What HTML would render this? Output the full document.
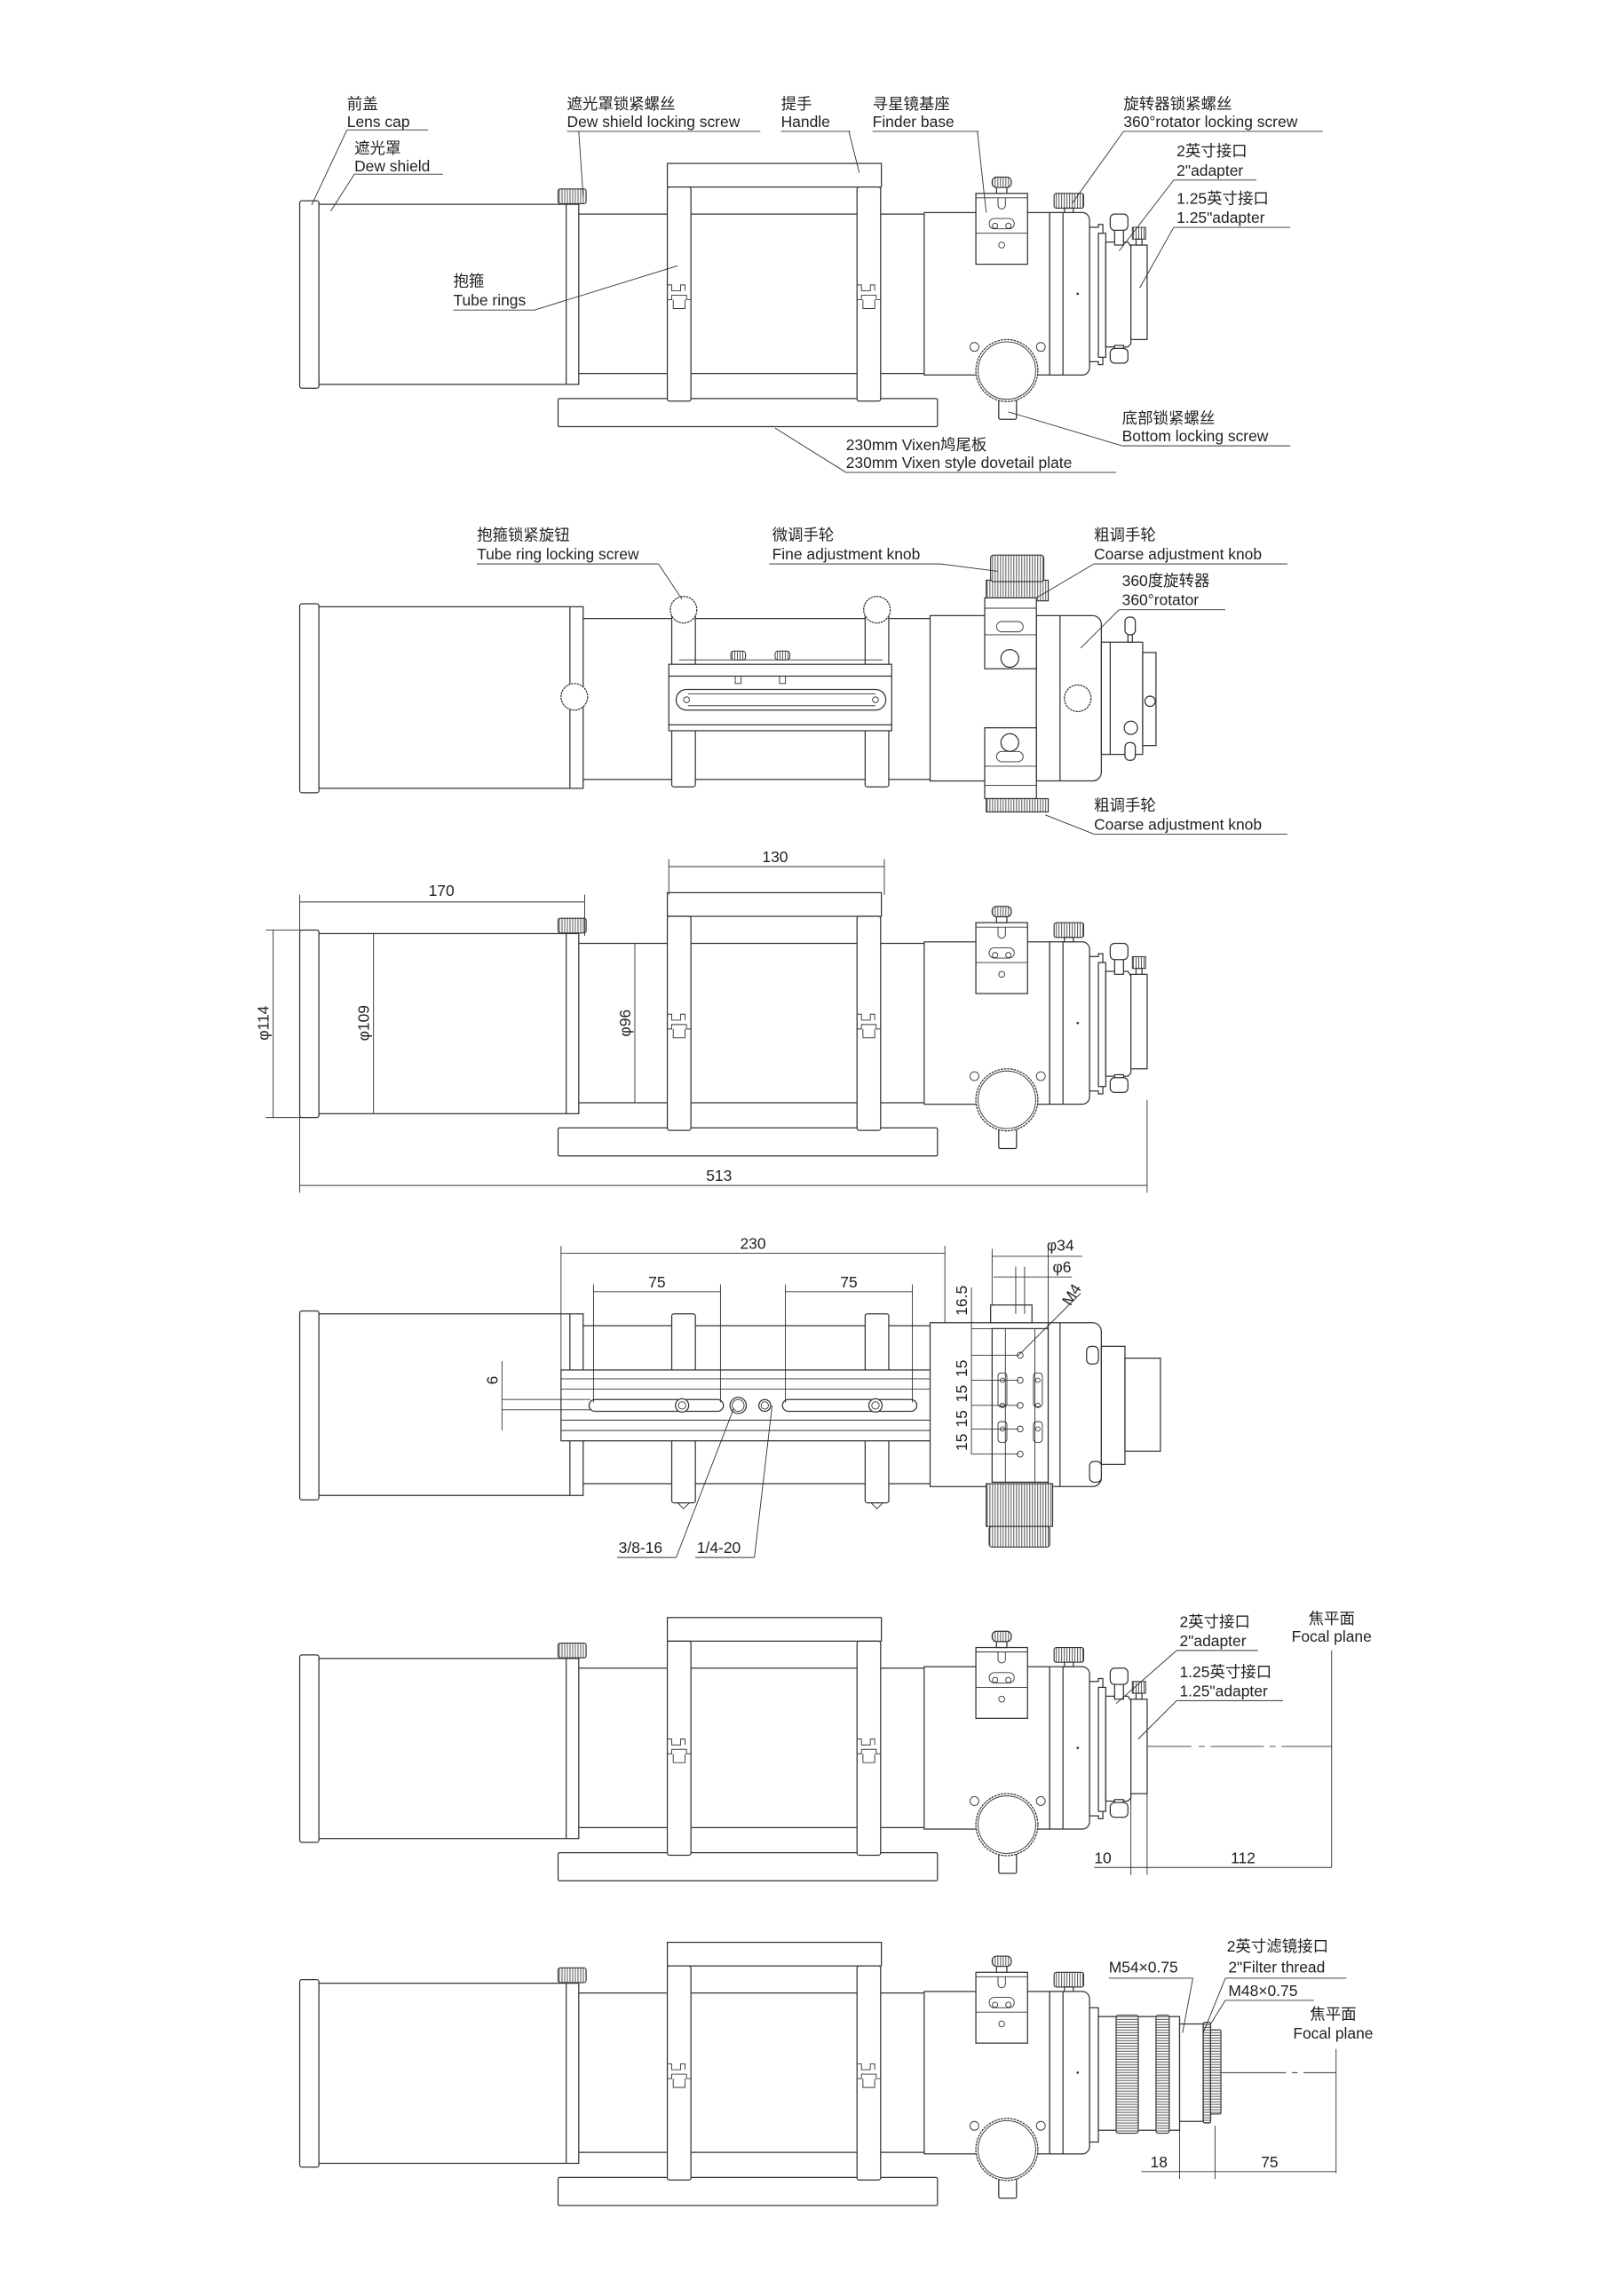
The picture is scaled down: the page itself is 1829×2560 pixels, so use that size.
<!DOCTYPE html>
<html><head><meta charset="utf-8"><style>
html,body{margin:0;padding:0;background:#fff}
svg{display:block}
text{font-family:"Liberation Sans","Noto Sans CJK SC",sans-serif;font-size:10.5px;fill:#222}
.l{fill:none;stroke:#333;stroke-width:0.75}
.w{fill:#fff;stroke:#333;stroke-width:0.75}
.t{fill:none;stroke:#333;stroke-width:0.55}
</style></head><body>
<svg width="1829" height="2560" viewBox="0 0 1100 1539.7" xmlns="http://www.w3.org/2000/svg">
<defs>
<pattern id="kn" width="1.8" height="4" patternUnits="userSpaceOnUse"><rect width="1.8" height="4" fill="#fff"/><line x1="0.9" y1="0" x2="0.9" y2="4" stroke="#333" stroke-width="0.5"/></pattern>
<pattern id="knh" width="4" height="1.8" patternUnits="userSpaceOnUse"><rect width="4" height="1.8" fill="#fff"/><line x1="0" y1="0.9" x2="4" y2="0.9" stroke="#333" stroke-width="0.5"/></pattern>
<g id="base">
 <rect class="w" x="203" y="136" width="13" height="127" rx="1.5"/>
 <rect class="w" x="216" y="138.4" width="176" height="122"/>
 <line class="l" x1="383.5" y1="138.4" x2="383.5" y2="260.4"/>
 <rect x="378" y="128" width="19" height="10" rx="1.5" fill="url(#kn)" stroke="#333" stroke-width="0.7"/>
 <line class="l" x1="392" y1="145" x2="626" y2="145"/>
 <line class="l" x1="392" y1="253" x2="626" y2="253"/>
 <rect class="w" x="378" y="270" width="257" height="19" rx="1"/>
 <rect class="w" x="452" y="110.7" width="145" height="16"/>
 <rect class="w" x="452" y="126.7" width="16" height="145" rx="1.5"/>
 <rect class="w" x="580.5" y="126.7" width="16" height="145" rx="1.5"/>
 <path class="t" d="M452 193h3v4h6v-4h3v4M452 203h3v-3h10v3h3M580.5 193h3v4h6v-4h3v4M580.5 203h3v-3h10v3h3"/>
 <path class="t" d="M456 203v6h8v-6M584.5 203v6h8v-6"/>
 <rect class="w" x="626" y="144" width="85" height="110"/>
 <path class="w" d="M711 144h22a5 5 0 0 1 5 5v100a5 5 0 0 1 -5 5h-22z"/>
 <line class="l" x1="720" y1="144" x2="720" y2="254"/>
 <circle cx="730" cy="199" r="0.8" fill="#333"/>
 <rect x="714" y="131" width="20" height="10" rx="1.5" fill="url(#kn)" stroke="#333" stroke-width="0.7"/>
 <rect class="w" x="721" y="141" width="6" height="3"/>
 <rect class="w" x="661" y="131" width="35" height="48"/>
 <line class="t" x1="661" y1="134" x2="696" y2="134"/>
 <line class="t" x1="661" y1="158" x2="696" y2="158"/>
 <rect class="t" x="670" y="148" width="17" height="7" rx="3.5"/>
 <circle class="t" cx="674" cy="153" r="1.8"/><circle class="t" cx="683" cy="153" r="1.8"/>
 <circle class="t" cx="678.5" cy="166" r="2"/>
 <path class="t" d="M676 134v5a2.5 2.5 0 0 0 5 0v-5"/>
 <rect class="w" x="675" y="126" width="7" height="5"/>
 <rect x="672" y="120" width="13" height="7" rx="3" fill="url(#kn)" stroke="#333" stroke-width="0.7"/>
 <circle class="t" cx="660" cy="235" r="3"/><circle class="t" cx="705" cy="235" r="3"/>
 <rect class="w" x="676.5" y="270" width="12" height="14" rx="1"/>
 <circle class="w" cx="682" cy="251" r="21" stroke-dasharray="1.6 0.6" stroke-width="1.1"/>
 <circle class="t" cx="682" cy="251" r="19.5"/>
</g>
<g id="adp">
 <path class="w" d="M738 154h6v-2h3v95h-3v-2h-6z"/>
 <rect class="w" x="744" y="158" width="5" height="84"/>
 <path class="w" d="M749 164h15l2 3v66l-2 2h-15z"/>
 <rect class="w" x="766" y="166" width="11" height="64"/>
 <rect class="w" x="755" y="155" width="6" height="11"/>
 <rect class="w" x="752" y="145" width="12" height="11" rx="3"/>
 <rect class="w" x="755" y="234" width="6" height="11"/>
 <rect class="w" x="752" y="236" width="12" height="10" rx="3"/>
 <rect x="767" y="154" width="9" height="8" fill="url(#kn)" stroke="#333" stroke-width="0.6"/>
 <rect class="w" x="769.5" y="162" width="4" height="4"/>
</g>
</defs>

<!-- VIEW 1 -->
<use href="#base"/><use href="#adp"/>
<g class="t">
<path d="M235 88h55M235 88L211 139"/>
<path d="M240 118h60M240 118L224 143"/>
<path d="M384 89h131M392 89L395 133"/>
<path d="M529 89h47M575 89L582 117"/>
<path d="M591 89h72M662 89L668 144"/>
<path d="M761 89h135M761 89L726 138"/>
<path d="M795 122h56M795 122L758 170"/>
<path d="M795 154h79M795 154L772 195"/>
<path d="M760 302h114M760 302L683 279"/>
<path d="M307 210h55M362 210L459 180"/>
<path d="M573 320h183M573 320L525 290"/>
</g>
<text x="235" y="74">前盖</text><text x="235" y="86">Lens cap</text>
<text x="240" y="104">遮光罩</text><text x="240" y="116">Dew shield</text>
<text x="384" y="74">遮光罩锁紧螺丝</text><text x="384" y="86">Dew shield locking screw</text>
<text x="529" y="74">提手</text><text x="529" y="86">Handle</text>
<text x="591" y="74">寻星镜基座</text><text x="591" y="86">Finder base</text>
<text x="761" y="74">旋转器锁紧螺丝</text><text x="761" y="86">360°rotator locking screw</text>
<text x="797" y="106">2英寸接口</text><text x="797" y="119">2"adapter</text>
<text x="797" y="138">1.25英寸接口</text><text x="797" y="151">1.25"adapter</text>
<text x="760" y="287">底部锁紧螺丝</text><text x="760" y="299">Bottom locking screw</text>
<text x="307" y="194">抱箍</text><text x="307" y="207">Tube rings</text>
<text x="573" y="305">230mm Vixen鸠尾板</text><text x="573" y="317">230mm Vixen style dovetail plate</text>

<!-- VIEW 2 (top) -->
<rect class="w" x="203" y="409" width="13" height="128" rx="1.5"/>
<rect class="w" x="216" y="411" width="179" height="123"/>
<line class="l" x1="386" y1="411" x2="386" y2="534"/>
<line class="l" x1="395" y1="419" x2="630" y2="419"/>
<line class="l" x1="395" y1="528" x2="630" y2="528"/>
<circle class="w" cx="389" cy="472" r="9" stroke-dasharray="1.5 0.5"/>
<rect class="w" x="455" y="412" width="16" height="121" rx="1.5"/>
<rect class="w" x="586" y="412" width="16" height="121" rx="1.5"/>
<circle class="w" cx="463" cy="413" r="9" stroke-dasharray="1.5 0.5"/>
<circle class="w" cx="594" cy="413" r="9" stroke-dasharray="1.5 0.5"/>
<rect class="w" x="453" y="450" width="151" height="45"/>
<line class="l" x1="453" y1="458" x2="604" y2="458"/>
<line class="l" x1="453" y1="491" x2="604" y2="491"/>
<rect class="w" x="458" y="467" width="142" height="14" rx="7"/>
<line class="t" x1="466" y1="470" x2="593" y2="470"/><line class="t" x1="466" y1="478" x2="593" y2="478"/>
<circle class="t" cx="465" cy="474" r="2"/><circle class="t" cx="593" cy="474" r="2"/>
<line class="t" x1="460" y1="447" x2="598" y2="447"/>
<rect x="495" y="441" width="10" height="6" rx="2" fill="url(#kn)" stroke="#333" stroke-width="0.6"/>
<rect x="525" y="441" width="10" height="6" rx="2" fill="url(#kn)" stroke="#333" stroke-width="0.6"/>
<rect class="t" x="498" y="458" width="4" height="5"/><rect class="t" x="528" y="458" width="4" height="5"/>
<rect class="w" x="630" y="417" width="72" height="112"/>
<path class="w" d="M702 417h38a6 6 0 0 1 6 6v100a6 6 0 0 1 -6 6h-38z"/>
<line class="l" x1="718" y1="417" x2="718" y2="529"/>
<circle class="w" cx="730" cy="473" r="9" stroke-dasharray="1.5 0.5"/>
<rect x="668" y="393" width="42" height="14" fill="url(#kn)" stroke="#333" stroke-width="0.7"/>
<rect x="671" y="376" width="36" height="18" rx="2" fill="url(#kn)" stroke="#333" stroke-width="0.7"/>
<rect class="w" x="667" y="405" width="35" height="48"/>
<line class="t" x1="667" y1="412" x2="702" y2="412"/><line class="t" x1="667" y1="430" x2="702" y2="430"/>
<rect class="t" x="675" y="421" width="18" height="7" rx="3.5"/>
<circle class="w" cx="684" cy="446" r="6"/>
<rect class="w" x="667" y="493" width="35" height="48"/>
<line class="t" x1="667" y1="532" x2="702" y2="532"/><line class="t" x1="667" y1="519" x2="702" y2="519"/>
<rect class="t" x="675" y="509" width="18" height="7" rx="3.5"/>
<circle class="w" cx="684" cy="503" r="6"/>
<rect x="668" y="541" width="42" height="9" fill="url(#kn)" stroke="#333" stroke-width="0.7"/>
<rect class="w" x="746" y="435" width="28" height="76"/>
<line class="l" x1="752" y1="435" x2="752" y2="511"/>
<rect class="w" x="774" y="442" width="9" height="63"/>
<rect class="w" x="762" y="418" width="7" height="12" rx="3"/><rect class="w" x="764" y="430" width="3" height="5"/>
<rect class="w" x="762" y="503" width="7" height="12" rx="3"/>
<circle class="w" cx="779" cy="475" r="3.5"/>
<circle class="w" cx="766" cy="493" r="4.5"/>
<g class="t">
<path d="M323 382h123M446 382L462 406"/>
<path d="M521 382h116M637 382L676 387"/>
<path d="M741 382h131M741 382L702 405"/>
<path d="M758 413h72M758 413L732 439"/>
<path d="M741 565h131M741 565L708 552"/>
</g>
<text x="323" y="366">抱箍锁紧旋钮</text><text x="323" y="379">Tube ring locking screw</text>
<text x="523" y="366">微调手轮</text><text x="523" y="379">Fine adjustment knob</text>
<text x="741" y="366">粗调手轮</text><text x="741" y="379">Coarse adjustment knob</text>
<text x="760" y="397">360度旋转器</text><text x="760" y="410">360°rotator</text>
<text x="741" y="549">粗调手轮</text><text x="741" y="562">Coarse adjustment knob</text>

<!-- VIEW 3 -->
<use href="#base" transform="translate(0,494)"/><use href="#adp" transform="translate(0,494)"/>
<g class="t">
<path d="M203 611h193M203 606v24M396 606v28"/>
<path d="M453 587h146M453 582v24M599 582v24"/>
<path d="M203 803h574M203 757v51M777 745v63"/>
<path d="M180 630h28M180 757h28M185 630v127"/>
<path d="M253 632v122M430 639v108"/>
</g>
<text x="299" y="607" text-anchor="middle">170</text>
<text x="525" y="584" text-anchor="middle">130</text>
<text x="487" y="800" text-anchor="middle">513</text>
<text transform="translate(182,693) rotate(-90)" text-anchor="middle">φ114</text>
<text transform="translate(250,693) rotate(-90)" text-anchor="middle">φ109</text>
<text transform="translate(427,693) rotate(-90)" text-anchor="middle">φ96</text>

<!-- VIEW 4 (bottom) -->
<rect class="w" x="203" y="888" width="13" height="128" rx="1.5"/>
<rect class="w" x="216" y="890" width="179" height="123"/>
<line class="l" x1="386" y1="890" x2="386" y2="1013"/>
<line class="l" x1="395" y1="898" x2="630" y2="898"/>
<line class="l" x1="395" y1="1005" x2="630" y2="1005"/>
<rect class="w" x="455" y="890" width="16" height="128" rx="1.5"/>
<rect class="w" x="586" y="890" width="16" height="128" rx="1.5"/>
<path class="t" d="M459 1018l4 4l4-4M590 1018l4 4l4-4"/>
<rect class="w" x="380" y="928" width="260" height="48"/>
<line class="t" x1="380" y1="934" x2="640" y2="934"/><line class="t" x1="380" y1="941" x2="640" y2="941"/>
<line class="t" x1="380" y1="962" x2="640" y2="962"/><line class="t" x1="380" y1="969" x2="640" y2="969"/>
<rect class="w" x="399" y="948" width="91" height="8" rx="4"/>
<rect class="w" x="530" y="948" width="91" height="8" rx="4"/>
<circle class="w" cx="462" cy="952" r="4.5"/><circle class="t" cx="462" cy="952" r="2.5"/>
<circle class="w" cx="593" cy="952" r="4.5"/><circle class="t" cx="593" cy="952" r="2.5"/>
<circle class="w" cx="500" cy="952" r="5.5"/><circle class="t" cx="500" cy="952" r="4"/>
<circle class="w" cx="518" cy="952" r="4"/><circle class="t" cx="518" cy="952" r="2.5"/>
<rect class="w" x="630" y="896" width="80" height="111"/>
<rect class="w" x="672" y="900" width="38" height="104"/>
<line class="t" x1="681" y1="900" x2="681" y2="1004"/><line class="t" x1="701" y1="900" x2="701" y2="1004"/>
<rect class="w" x="671" y="884" width="28" height="12"/>
<rect class="t" x="676" y="930" width="6" height="23" rx="2"/><rect class="t" x="700" y="930" width="6" height="23" rx="2"/>
<circle class="t" cx="679" cy="935" r="1.5"/><circle class="t" cx="679" cy="952" r="1.5"/><circle class="t" cx="679" cy="968" r="1.5"/>
<circle class="t" cx="703" cy="935" r="1.5"/><circle class="t" cx="703" cy="952" r="1.5"/><circle class="t" cx="703" cy="968" r="1.5"/>
<rect class="t" x="676" y="963" width="6" height="14" rx="2"/><rect class="t" x="700" y="963" width="6" height="14" rx="2"/>
<circle class="t" cx="691" cy="918" r="2"/><circle class="t" cx="691" cy="935" r="2"/><circle class="t" cx="691" cy="952" r="2"/><circle class="t" cx="691" cy="968" r="2"/><circle class="t" cx="691" cy="985" r="2"/>
<path class="w" d="M710 896h30a6 6 0 0 1 6 6v99a6 6 0 0 1 -6 6h-30z"/>
<line class="l" x1="718" y1="896" x2="718" y2="1007"/>
<rect class="w" x="746" y="912" width="16" height="80"/>
<rect class="w" x="762" y="920" width="24" height="63"/>
<rect class="w" x="736" y="912" width="8" height="12" rx="3"/><rect class="w" x="738" y="990" width="8" height="14" rx="3"/>
<rect x="668" y="1005" width="45" height="29" fill="url(#kn)" stroke="#333" stroke-width="0.7"/>
<rect x="670" y="1034" width="41" height="14" rx="2" fill="url(#kn)" stroke="#333" stroke-width="0.7"/>
<g class="t">
<path d="M380 849h260M380 844v84M640 844v52"/>
<path d="M402 875h86M402 870v80M488 870v80M532 875h86M532 870v80M618 870v80"/>
<path d="M340 948h60M340 955h60M340 922v47"/>
<path d="M672 851h61M672 846v38M710 846v50M673 865h53M688 858v32M694 858v32"/>
<path d="M658 872v113M658 900h32M658 918h32M658 935h32M658 952h32M658 968h32M658 985h32"/>
<path d="M732 876L690 918"/>
<path d="M418 1055h40M458 1055L497 954"/>
<path d="M471 1055h40M511 1055L523 952"/>
</g>
<text x="510" y="846" text-anchor="middle">230</text>
<text x="445" y="872" text-anchor="middle">75</text>
<text x="575" y="872" text-anchor="middle">75</text>
<text transform="translate(337,935) rotate(-90)" text-anchor="middle">6</text>
<text x="709" y="847">φ34</text>
<text x="713" y="862">φ6</text>
<text transform="translate(725,885) rotate(-58)">M4</text>
<text transform="translate(655,881) rotate(-90)" text-anchor="middle">16.5</text>
<text transform="translate(655,927) rotate(-90)" text-anchor="middle">15</text>
<text transform="translate(655,944) rotate(-90)" text-anchor="middle">15</text>
<text transform="translate(655,961) rotate(-90)" text-anchor="middle">15</text>
<text transform="translate(655,977) rotate(-90)" text-anchor="middle">15</text>
<text x="419" y="1052">3/8-16</text>
<text x="472" y="1052">1/4-20</text>

<!-- VIEW 5 -->
<use href="#base" transform="translate(0,985)"/><use href="#adp" transform="translate(0,985)"/>
<g class="t">
<path d="M777 1183h30M812 1183h4M820 1183h36M860 1183h4M868 1183h34"/>
<path d="M902 1118v147M741 1265h161M766 1215v55M777 1215v55"/>
<path d="M797 1118h55M797 1118L756 1154M797 1152h72M797 1152L771 1178"/>
</g>
<text x="799" y="1102">2英寸接口</text><text x="799" y="1115">2"adapter</text>
<text x="799" y="1136">1.25英寸接口</text><text x="799" y="1149">1.25"adapter</text>
<text x="902" y="1100" text-anchor="middle">焦平面</text><text x="902" y="1112" text-anchor="middle">Focal plane</text>
<text x="747" y="1262" text-anchor="middle">10</text>
<text x="842" y="1262" text-anchor="middle">112</text>

<!-- VIEW 6 -->
<use href="#base" transform="translate(0,1205)"/>
<g transform="translate(0,1205)">
 <path class="w" d="M738 155h6v91h-6z"/>
 <rect class="w" x="744" y="161" width="55" height="77"/>
 <rect x="756" y="160" width="15" height="80" rx="1.5" fill="url(#knh)" stroke="#333" stroke-width="0.7"/>
 <rect x="783" y="160" width="9" height="80" rx="1.5" fill="url(#knh)" stroke="#333" stroke-width="0.7"/>
 <rect class="w" x="799" y="166" width="16" height="66"/>
 <rect x="815" y="165" width="5" height="68" rx="1" fill="url(#knh)" stroke="#333" stroke-width="0.8"/>
 <rect x="820" y="170" width="7" height="57" rx="1" fill="url(#knh)" stroke="#333" stroke-width="0.7"/>
</g>
<g class="t">
<path d="M827 1404h44M875 1404h4M883 1404h22"/>
<path d="M905 1388v84M773 1471h132M799 1440v36M823 1440v36"/>
<path d="M751 1340h57M808 1340L801 1377"/>
<path d="M830 1340h82M830 1340L815 1377"/>
<path d="M830 1355h60M830 1355L820 1371"/>
</g>
<text x="751" y="1336">M54×0.75</text>
<text x="831" y="1322">2英寸滤镜接口</text><text x="832" y="1336">2"Filter thread</text>
<text x="832" y="1352">M48×0.75</text>
<text x="903" y="1368" text-anchor="middle">焦平面</text><text x="903" y="1381" text-anchor="middle">Focal plane</text>
<text x="785" y="1468" text-anchor="middle">18</text>
<text x="860" y="1468" text-anchor="middle">75</text>
</svg>
</body></html>
